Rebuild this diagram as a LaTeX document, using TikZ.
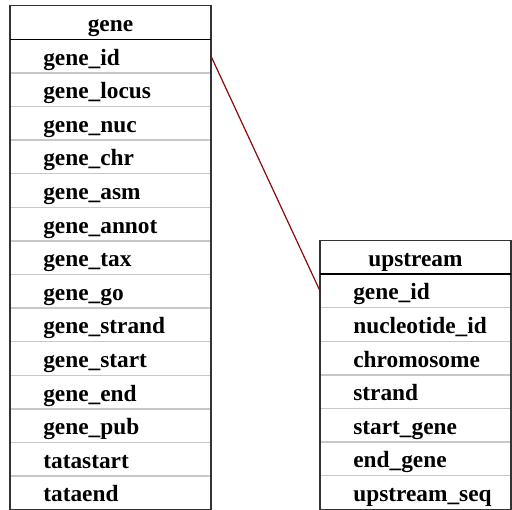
\documentclass[tikz,border=0pt]{standalone}
\usepackage{fontspec}
\setmainfont{Liberation Serif}
\usetikzlibrary{positioning, fit}
\definecolor{linkred}{RGB}{140,10,10}
\definecolor{rowline}{RGB}{200,200,200}
\newcommand{\fieldfont}{\fontsize{17.5}{20}\selectfont\bfseries}

\begin{document}
\begin{tikzpicture}[
	table head/.style={rectangle, minimum width=#1, minimum height=25.2pt, inner sep=0pt, outer sep=0pt, text height=15pt, text depth=1.2pt, align=center, font=\fieldfont},
	table row/.style={rectangle, draw=rowline, line width=1pt, text width=#1-50pt, inner xsep=25pt, inner ysep=0pt, outer sep=0pt, minimum height=25.2pt, text height=15pt, text depth=1.6pt, align=left, font=\fieldfont},
	table frame/.style={rectangle, draw=black!80, line width=1pt, inner sep=0pt},
	link/.style={draw=linkred, line width=0.9pt}
]
\useasboundingbox (0,0) rectangle (384pt,-382.5pt);

% gene table
\node[table head=150.75pt, anchor=north west] (gene-0) at (7.5pt,-4.3pt) {gene};
\foreach \f [count=\i, remember=\i as \j (initially 0)] in {gene\_id, gene\_locus, gene\_nuc, gene\_chr, gene\_asm, gene\_annot, gene\_tax, gene\_go, gene\_strand, gene\_start, gene\_end, gene\_pub, tatastart, tataend}
	\node[table row=150.75pt, below=0pt of gene-\j] (gene-\i) {\f};
\node[table frame, fit=(gene-0)(gene-14)] (gene-box) {};
\draw[line width=1pt] (gene-0.south west) -- (gene-0.south east);

% upstream table
\node[table head=143.25pt, anchor=north west] (upstream-0) at (240pt,-180.4pt) {upstream};
\foreach \f [count=\i, remember=\i as \j (initially 0)] in {gene\_id, nucleotide\_id, chromosome, strand, start\_gene, end\_gene, upstream\_seq}
	\node[table row=143.25pt, below=0pt of upstream-\j] (upstream-\i) {\f};
\node[table frame, fit=(upstream-0)(upstream-7)] (upstream-box) {};
\draw[line width=1pt] (upstream-0.south west) -- (upstream-0.south east);

% gene_id -> gene_id
\draw[link] (gene-1.east) -- (upstream-1.west);

\end{tikzpicture}
\end{document}
